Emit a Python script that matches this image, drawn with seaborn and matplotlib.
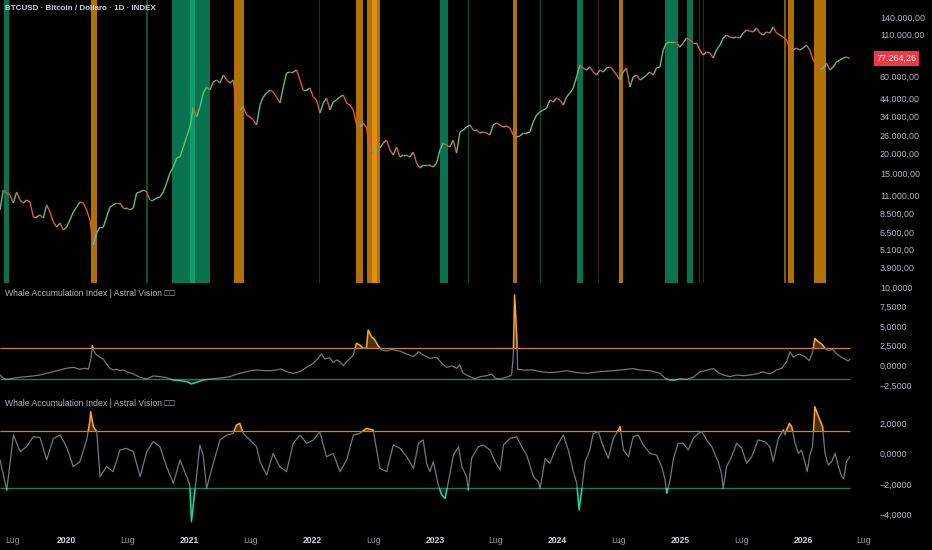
import numpy as np
import pandas as pd
import matplotlib
matplotlib.use("Agg")
import matplotlib.pyplot as plt
import matplotlib.dates as mdates
import matplotlib.transforms as mtransforms
from matplotlib.collections import LineCollection
from matplotlib.patches import Rectangle
import seaborn as sns

# ---------------- data ----------------
start = pd.Timestamp("2019-06-16")

# BTCUSD closes, one every ~10 days from start
btc_close = [
    8890, 11830, 11330, 11010, 9820, 11500, 10250, 9820, 10250, 9970,
    8040, 8040, 8280, 7930, 9550, 8640, 7490, 6970, 7380, 6680,
    6970, 7710, 8640, 9280, 9970, 9820, 8890, 7710, 5390, 6400,
    6970, 6970, 8040, 9280, 9550, 9820, 9820, 9150, 9150, 8890,
    9150, 11330, 11500, 11830, 11500, 10250, 10250, 10550, 10700, 11500,
    13070, 15080, 16420, 18680, 18950, 21860, 25220, 29090, 38700, 33560,
    38700, 47270, 51500, 49340, 55300, 56900, 54530, 61130, 56900, 54530,
    56900, 38700, 37080, 38700, 34530, 33560, 32150, 29940, 39820, 44640,
    47270, 49340, 47950, 44640, 40980, 51500, 62900, 63800, 63800, 65680,
    56900, 49340, 49340, 50770, 44640, 42780, 35520, 40980, 44010, 37080,
    41570, 42780, 44640, 45940, 40980, 39820, 37080, 29940, 29090, 30800,
    28680, 20940, 20060, 21860, 21550, 23140, 24150, 20940, 19500, 21860,
    18950, 19500, 19500, 18950, 20350, 17390, 16190, 16900, 16900, 16900,
    16420, 17390, 20940, 23140, 22490, 21860, 24150, 20060, 27080, 27870,
    29090, 29940, 27870, 27870, 26700, 27080, 26700, 25940, 29940, 30800,
    29940, 29090, 29510, 28680, 25940, 25220, 25570, 26700, 26700, 27080,
    31240, 34530, 36040, 37080, 38150, 42780, 41570, 44010, 42780, 39820,
    44640, 47270, 50770, 59410, 70530, 67570, 65680, 68540, 63800, 61130,
    65680, 63800, 67570, 68540, 65680, 61130, 56900, 63800, 67570, 51500,
    59410, 61130, 56900, 58570, 61130, 63800, 61130, 67570, 68540, 87360,
    96560, 97950, 97950, 96560, 91190, 96560, 103700, 100780, 96560, 96560,
    87360, 81340, 84900, 83700, 77930, 87360, 93830, 103700, 108240, 105190,
    103700, 105190, 103700, 111380, 116250, 114600, 112980, 119620, 111380, 108240,
    112980, 111380, 121340, 111380, 108240, 105190, 100780, 89890, 87360, 89890,
    87360, 89890, 93830, 87360, 75740, 70530, 67570, 67570, 72570, 65680,
    68540, 73600, 75740, 77930, 79050, 77264.26,
]
last_price = 77264.26

# signal bands on the price pane (days after start)
green_bands = [(12, 27), (435, 441), (512, 625), (566, 580), (1310, 1334),
               (1393, 1396), (1607, 1610), (1718, 1735), (1980, 2018), (2045, 2063)]
orange_bands = [(271, 289), (697, 726), (1060, 1081), (1092, 1131), (1107, 1122),
                (1527, 1539), (1843, 1855), (2334, 2340), (2346, 2364), (2423, 2459)]
faint_marks = [(950, 952), (1780, 1782), (2081, 2083), (2093, 2096)]

# Whale Accumulation Index, first pane (days after start, value)
whale_days = [
    0, 10, 20, 40, 60, 79, 99, 119, 139, 159, 179, 198, 218, 238, 253, 263, 270, 275, 280, 288,
    298, 308, 317, 327, 337, 347, 357, 367, 377, 397, 417, 437, 456, 476, 496, 516, 536, 556, 570, 585,
    605, 625, 645, 665, 684, 704, 724, 744, 764, 784, 804, 823, 838, 853, 873, 893, 913, 933, 947, 957,
    967, 982, 992, 1002, 1012, 1022, 1032, 1042, 1052, 1061, 1071, 1081, 1091, 1096, 1106, 1116, 1126,
    1136, 1151, 1166, 1176,
    1191, 1211, 1231, 1246, 1260, 1280, 1300, 1315, 1330, 1345, 1360, 1368, 1379, 1399, 1414, 1429,
    1449, 1464, 1474, 1489, 1508, 1523, 1528, 1532, 1536, 1539, 1541, 1558, 1588, 1608, 1637, 1667,
    1687, 1717, 1747, 1786, 1826, 1866, 1885, 1905, 1935, 1965, 1980, 1995, 2009, 2024, 2044, 2064,
    2084, 2099, 2114, 2124, 2138, 2153, 2173, 2193, 2213, 2233, 2252, 2272, 2292, 2312, 2327, 2342,
    2352, 2362, 2372, 2381, 2396, 2409, 2419, 2426, 2436, 2446, 2456, 2466, 2479, 2491, 2510, 2525, 2530,
]
whale_vals = [
    -1.24, -1.66, -1.79, -1.66, -1.53, -1.45, -1.36, -1.24, -1.02, -0.82, -0.60, -0.38, -0.26, -0.51,
    -0.38, -0.51, 0.68, 2.50, 1.73, 1.31, 1.02, 0.77, 0.17, -0.38, -0.60, -0.51, -0.69, -0.60, -0.82,
    -1.11, -1.53, -1.75, -1.36, -1.45, -1.58, -1.88, -1.96, -2.09, -2.39, -2.17, -1.88, -1.75, -1.66,
    -1.58, -1.45, -1.15, -0.94, -0.69, -0.60, -0.69, -0.69, -0.60, -0.47, -0.82, -1.02, -0.82, -0.26,
    0.26, 0.89, 1.44, 0.80, 0.97, 0.33, 0.68, 0.46, -0.05, 0.46, 0.89, 1.31, 2.80, 2.59, 2.17, 2.17,
    4.50, 3.65, 3.23, 2.46, 1.95, 1.82, 2.04, 1.90,
    1.82, 1.44, 1.10, 1.73, 1.31, 0.89, 1.02, 0.26, -0.26, -0.09, -0.38, 0.04, -1.02, -1.45, -1.71,
    -1.45, -1.33, -1.11, -1.66, -1.75, -1.53, -1.24, 1.10, 8.97, 5.78, 3.01, -0.51, -0.60, -0.60,
    -0.82, -0.94, -0.82, -0.69, -0.94, -1.02, -0.82, -0.69, -0.51, -0.43, -0.60, -0.69, -1.02, -1.66,
    -1.88, -1.88, -1.71, -1.79, -1.53, -0.82, -0.69, -0.51, -0.43, -0.94, -1.24, -1.45, -1.24, -1.33,
    -1.24, -1.11, -0.85, -1.11, -0.60, -0.38, 0.46, 1.73, 1.02, 1.31, 1.44, 1.10, 0.59, 1.61, 3.44,
    3.01, 2.72, 2.17, 1.86, 2.04, 1.44, 0.89, 0.55, 0.77,
]
whale_upper, whale_lower = 2.17, -1.75

# Whale Accumulation Index, second pane (oscillator)
osc_days = [
    0, 20, 40, 60, 79, 99, 119, 139, 159, 179, 198, 218, 238, 258, 268, 270, 278, 288, 298, 317,
    337, 357, 377, 397, 417, 437, 456, 476, 496, 516, 536, 556, 565, 570, 585, 595, 605, 615, 635, 655,
    675, 694, 704, 714, 724, 744, 764, 774, 794, 813, 833, 853, 873, 893, 913, 933, 952, 972, 992, 1012,
    1032, 1052, 1071, 1091, 1111, 1131, 1151, 1171,
    1191, 1211, 1231, 1246, 1260, 1270, 1280, 1290, 1305, 1315, 1325, 1335, 1350, 1365, 1375, 1389,
    1394, 1404, 1424, 1439, 1459, 1474, 1489, 1499, 1518, 1538, 1553, 1568, 1588, 1603, 1608, 1623,
    1637, 1657, 1677, 1692, 1707, 1717, 1724, 1732, 1742, 1756, 1766, 1781, 1796, 1811, 1826, 1841,
    1846, 1856, 1871, 1885, 1900, 1915, 1935, 1955, 1970, 1980, 1985, 1995, 2005, 2019, 2034, 2049,
    2064, 2079, 2089, 2104, 2119, 2138, 2148, 2153, 2163, 2178, 2193, 2208, 2223, 2238, 2257, 2277,
    2292, 2302, 2317,
    2332, 2337, 2344, 2350, 2357, 2367, 2377, 2386, 2396, 2403, 2411, 2419, 2426, 2433, 2441, 2449,
    2456, 2466, 2476, 2486, 2496, 2506, 2512, 2520, 2530,
]
osc_vals = [
    -0.41, -2.38, 1.22, 0.13, 0.46, 1.11, 1.07, -0.41, 1.00, 1.22, 0.46, -0.85, -0.52, 0.90, 2.20,
    2.75, 1.77, 1.44, -1.51, -0.85, -1.18, 0.24, 0.35, 0.13, -1.51, 0.13, 0.79, 0.46, -0.85, -1.94,
    -0.41, -1.51, -2.05, -4.45, -1.51, 0.57, -0.09, -2.27, -0.63, 0.90, 1.22, 1.33, 1.88, 1.99, 1.33,
    0.90, 0.46, -0.52, -1.40, 0.02, -0.85, -1.18, 0.68, 1.22, 0.68, 0.90, 1.44, -0.20, 0.02, -1.18,
    -0.41, 1.22, 1.33, 1.66, 1.55, -0.96, -1.18, 0.57,
    0.35, -0.20, -0.96, 0.68, 0.90, -0.63, -1.18, -0.52, -2.05, -2.71, -2.93, -1.83, -0.09, 0.46,
    -0.85, -1.51, -2.38, -0.31, 0.46, 0.57, 0.24, -0.52, -1.07, 0.57, 1.00, 1.11, 0.46, -0.09, -1.51,
    -1.83, -2.27, -0.31, -0.63, 0.46, 1.22, 0.24, -1.18, -1.94, -3.69, -2.38, -0.52, 0.24, 1.33, 1.44,
    0.46, -0.31, 1.00, 1.55, 1.77, 0.24, -0.20, 1.11, 1.22, 0.57, 0.02, -0.09, -0.85, -1.72, -2.60,
    -1.72, -0.31, 0.68, 0.68, 0.24, 1.00, 1.33, 1.44, 0.90, 0.46, -0.52, -1.29, -2.27, -0.85, -0.20,
    0.68, 0.35, -0.63, -0.20, 0.90, 0.79, 0.46, -0.52, 1.00,
    1.55, 1.22, 1.66, 1.99, 1.77, 0.68, 0.02, 0.24, -0.52, -1.18, -0.09, 0.46, 3.08, 2.64, 2.20, 1.77,
    0.02, -0.74, -0.52, 0.02, -0.85, -1.51, -1.62, -0.52, -0.20,
]
osc_upper, osc_lower = 1.46, -2.23

price_ticks = [140000, 110000, 60000, 44000, 34000, 26000, 20000, 15000, 11000, 8500, 6500, 5100, 3900]
whale_ticks = [10, 7.5, 5, 2.5, 0, -2.5]
osc_ticks = [2, 0, -2, -4]
x_tick_dates = ["2019-07-01", "2020-01-01", "2020-07-01", "2021-01-01", "2021-07-01", "2022-01-01",
                "2022-07-01", "2023-01-01", "2023-07-01", "2024-01-01", "2024-07-01", "2025-01-01",
                "2025-07-01", "2026-01-01", "2026-07-01"]
x_tick_labels = ["Lug", "2020", "Lug", "2021", "Lug", "2022", "Lug", "2023", "Lug", "2024",
                 "Lug", "2025", "Lug", "2026", "Lug"]

title_main = "BTCUSD \u00b7 Bitcoin / Dollaro \u00b7 1D \u00b7 INDEX"
title_ind = "Whale Accumulation Index | Astral Vision \u25a1\u25a1"

# ---------------- style ----------------
sns.set_theme(style="dark", rc={"axes.facecolor": "black", "figure.facecolor": "black",
                                "axes.edgecolor": "black", "axes.grid": False})
plt.rcParams["font.family"] = ["Liberation Sans", "DejaVu Sans"]

GREY_TXT = "#b2b5be"
LINE_GREY = "#74777f"
ORANGE = "#ffa726"
TEAL = "#26d49c"
UP, DOWN = "#5fbf80", "#e5534b"

W, H = 932, 550
fig = plt.figure(figsize=(W / 100, H / 100), dpi=100)
plot_w = 873 / W
ax_p = fig.add_axes([0, 1 - 283 / H, plot_w, 283 / H])
ax_w = fig.add_axes([0, 1 - 396 / H, plot_w, 111 / H])
ax_o = fig.add_axes([0, 1 - 528 / H, plot_w, 132 / H])

x_end = start + pd.Timedelta(days=2599)
for ax in (ax_p, ax_w, ax_o):
    ax.set_facecolor("black")
    ax.set_xlim(start, x_end)
    for s in ax.spines.values():
        s.set_visible(False)
    ax.yaxis.tick_right()
    ax.tick_params(axis="y", length=0, pad=5, labelsize=6.4, colors=GREY_TXT)
    ax.tick_params(axis="x", length=0)


def days_to_dates(days):
    return start + pd.to_timedelta(np.asarray(days), unit="D")


def it_fmt(v, dec):
    s = f"{abs(v):,.{dec}f}".replace(",", "X").replace(".", ",").replace("X", ".")
    return ("\u2212" if v < 0 else "") + s


# ---------------- price pane ----------------
ax_p.set_yscale("log")
ax_p.set_ylim(3133, 178500)

for a, b in green_bands:
    alpha = 0.45 if b - a < 8 else 0.62
    ax_p.axvspan(start + pd.Timedelta(days=a), start + pd.Timedelta(days=b),
                 color="#10b981", alpha=alpha, lw=0)
for a, b in orange_bands:
    alpha = 0.55 if b - a < 8 else 0.72
    ax_p.axvspan(start + pd.Timedelta(days=a), start + pd.Timedelta(days=b),
                 color="#f59e0b", alpha=alpha, lw=0)
for a, b in faint_marks:
    ax_p.axvspan(start + pd.Timedelta(days=a), start + pd.Timedelta(days=b),
                 color="#8a7a30", alpha=0.35, lw=0)

btc_dates = pd.date_range(start, start + pd.Timedelta(days=2530), periods=len(btc_close))
closes = np.array(btc_close, dtype=float)
xs = mdates.date2num(btc_dates)
pts = np.column_stack([xs, closes])
segs = np.stack([pts[:-1], pts[1:]], axis=1)
cols = [UP if closes[i + 1] >= closes[i] else DOWN for i in range(len(closes) - 1)]
ax_p.add_collection(LineCollection(segs, colors=cols, linewidths=1.0, zorder=3))

ax_p.yaxis.set_major_locator(matplotlib.ticker.FixedLocator(price_ticks))
ax_p.yaxis.set_minor_locator(matplotlib.ticker.NullLocator())
ax_p.set_yticklabels([it_fmt(v, 2) for v in price_ticks])
ax_p.set_xticks([])

blend = mtransforms.blended_transform_factory(ax_p.transAxes, ax_p.transData)
ax_p.text(1.004, last_price, it_fmt(last_price, 2), transform=blend, ha="left", va="center",
          fontsize=6.4, color="white",
          bbox=dict(boxstyle="square,pad=0.3", fc="#f23645", ec="none"))

fig.text(5 / W, 1 - 9 / H, title_main, fontsize=5.8, color="#d1d4dc", ha="left", va="center",
         fontweight="bold")


# ---------------- indicator panes ----------------
def draw_index(ax, days, vals, upper, lower):
    d = days_to_dates(days)
    v = np.array(vals, dtype=float)
    x0 = mdates.date2num(start - pd.Timedelta(days=100))
    span = 4000
    parts = [(LINE_GREY, lower, upper, 0.9), (ORANGE, upper, 100, 1.1), (TEAL, -100, lower, 1.1)]
    for color, y0, y1, lw in parts:
        sns.lineplot(x=d, y=v, ax=ax, color=color, lw=lw, estimator=None, sort=False,
                     legend=False, zorder=4)
        line = ax.lines[-1]
        line.set_clip_path(Rectangle((x0, y0), span, y1 - y0, transform=ax.transData))
    ax.fill_between(d, v, upper, where=v > upper, interpolate=True, color="#f5a623",
                    alpha=0.3, lw=0, zorder=2)
    ax.fill_between(d, v, lower, where=v < lower, interpolate=True, color="#14b88a",
                    alpha=0.2, lw=0, zorder=2)
    ax.hlines(upper, d[0], d[-1], color="#c98535", lw=0.9, zorder=3)
    ax.hlines(lower, d[0], d[-1], color="#1d7a5c", lw=1.0, zorder=3)


draw_index(ax_w, whale_days, whale_vals, whale_upper, whale_lower)
ax_w.set_ylim(-3.92, 10.24)
ax_w.set_yticks(whale_ticks)
ax_w.set_yticklabels([it_fmt(v, 4) for v in whale_ticks])
ax_w.set_xticks([])

draw_index(ax_o, osc_days, osc_vals, osc_upper, osc_lower)
ax_o.set_ylim(-4.87, 3.78)
ax_o.set_yticks(osc_ticks)
ax_o.set_yticklabels([it_fmt(v, 4) for v in osc_ticks])
ax_o.set_xlim(start, x_end)
ax_o.set_xticks(pd.to_datetime(x_tick_dates))
ax_o.set_xticklabels(x_tick_labels)
ax_o.tick_params(axis="x", length=0, pad=5.5, labelsize=6.2, colors="#9598a1")
xlbls = ax_o.get_xticklabels()
for lbl in xlbls:
    if lbl.get_text() != "Lug":
        lbl.set_fontweight("bold")
        lbl.set_color("#d1d4dc")
# the first month label sits at the very left edge of the chart
xlbls[0].set_horizontalalignment("left")
xlbls[0].set_x(mdates.date2num(start))

# no axis titles in this chart
for ax in (ax_p, ax_w, ax_o):
    ax.xaxis.label.set_visible(False)
    ax.yaxis.label.set_visible(False)

for ypix in (293, 403):
    fig.text(5 / W, 1 - ypix / H, title_ind, fontsize=6.2, color="#b2b5be", ha="left",
             va="center")

fig.savefig("out.png", dpi=100, facecolor="black")
